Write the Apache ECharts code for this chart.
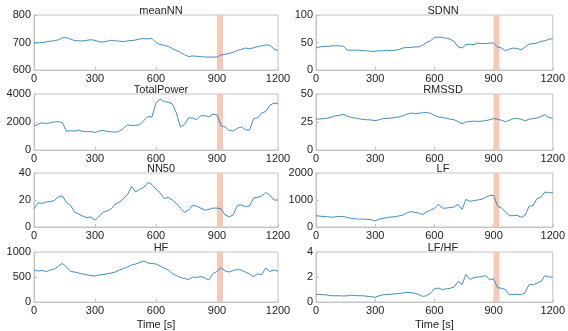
<!DOCTYPE html>
<html>
<head>
<meta charset="utf-8">
<script src="https://cdn.jsdelivr.net/npm/echarts@6/dist/echarts.min.js"></script>
<style>
  html, body { margin: 0; padding: 0; background: #fff; }
  #main { width: 568px; height: 331px; }
</style>
</head>
<body>
<div id="main"></div>
<script>
var chartDom = document.getElementById('main');
var myChart = echarts.init(chartDom);
var option;

// time axis, one value every 20 s
var time = [];
for (var s = 0; s <= 1200; s += 20) time.push(s);

var xTicks = [0, 300, 600, 900, 1200];
var band = [900, 930];

var meanNN = [698, 699, 700, 702, 705, 706, 710, 717, 718, 712, 707, 706, 706, 708, 710, 708, 703, 702, 705, 708,
  706, 705, 703, 706, 707, 709, 713, 714, 713, 715, 700, 693, 690, 686, 678, 671, 664, 656, 649, 651,
  650, 649, 647, 647, 647, 647, 655, 657, 660, 665, 671, 675, 680, 677, 681, 685, 688, 691, 690, 677, 671];
var SDNN = [40, 42, 43, 43, 44, 44, 44, 43, 36, 36, 36, 36, 35, 35, 34, 34, 35, 35, 36, 35,
  36, 37, 40, 41, 41, 42, 42, 45, 50, 53, 59, 60, 59, 58, 56, 52, 42, 40, 46, 47,
  46, 49, 48, 48, 49, 49, 42, 40, 35, 38, 40, 39, 37, 42, 47, 48, 49, 52, 53, 56, 57];
var totalPower = [1700, 1850, 1950, 1880, 1950, 2000, 2030, 1950, 1330, 1380, 1350, 1420, 1330, 1300, 1320, 1260, 1350, 1400, 1320, 1300,
  1270, 1350, 1550, 1800, 1750, 1760, 1800, 2100, 2400, 2350, 3350, 3650, 3450, 3430, 3300, 2650, 1650, 1820, 2300, 2280,
  2150, 2450, 2450, 2380, 2560, 2500, 1750, 1650, 1400, 1350, 1550, 1650, 1450, 1420, 2250, 2300, 2650, 2750, 3200, 3350, 3300];
var RMSSD = [27.5, 27.8, 28, 28.5, 29.5, 30.5, 31, 31.8, 30, 29, 28.5, 27.8, 27.2, 27, 26.8, 26.2, 27, 28, 28.2, 28.5,
  29, 29.5, 30.5, 32, 33, 32.5, 32.8, 33.2, 33.5, 32.8, 31, 29.5, 29, 28.5, 27.5, 27, 25.5, 23.5, 25, 25.5,
  25.8, 25.5, 25.8, 26.2, 27, 28, 27.5, 26.5, 25.2, 26.5, 28, 28, 27.5, 26, 27.5, 28, 28.5, 30, 31.5, 29, 28.5];
var NN50 = [13.5, 18, 17.5, 18.5, 18.8, 19.5, 22.5, 23, 18, 16, 11, 9.5, 8, 7, 7.5, 5, 8, 11, 12, 13.5,
  17, 18.5, 21, 24, 30, 26, 28, 29.5, 33, 31.5, 28, 25.5, 21, 22, 20, 17.5, 14, 11, 12.5, 16,
  15.5, 14, 12.5, 13, 14, 14, 13.5, 9, 7.5, 9, 16, 16.5, 15, 15.5, 21.5, 22, 23, 25.5, 23.5, 20, 20];
var LF = [420, 400, 390, 380, 360, 380, 390, 385, 350, 320, 300, 290, 295, 280, 270, 225, 290, 320, 350, 370,
  380, 410, 440, 520, 570, 540, 520, 460, 560, 620, 690, 840, 700, 700, 720, 740, 840, 650, 1020, 950,
  980, 1000, 1030, 1100, 1160, 1180, 780, 700, 560, 420, 420, 430, 360, 430, 770, 790, 1050, 1100, 1300, 1260, 1280];
var HF = [640, 620, 630, 610, 640, 660, 720, 770, 700, 610, 600, 580, 560, 545, 530, 520, 540, 550, 565, 580,
  600, 640, 670, 700, 740, 760, 790, 820, 780, 770, 760, 720, 680, 640, 570, 530, 490, 470, 450, 500,
  490, 510, 480, 440, 570, 610, 690, 620, 600, 630, 650, 640, 600, 560, 510, 560, 550, 680, 610, 640, 620];
var LFHF = [0.62, 0.6, 0.58, 0.55, 0.5, 0.5, 0.5, 0.48, 0.5, 0.55, 0.52, 0.5, 0.5, 0.45, 0.42, 0.38, 0.5, 0.58, 0.6, 0.62,
  0.65, 0.68, 0.72, 0.78, 0.75, 0.7, 0.6, 0.45, 0.5, 0.7, 1.05, 1.12, 1.0, 1.05, 1.1, 1.2, 1.65, 1.4, 2.2, 1.8,
  1.95, 2.0, 2.05, 2.1, 1.8, 1.85, 1.15, 1.1, 1.0, 0.58, 0.6, 0.62, 0.58, 0.75, 1.4, 1.38, 1.5, 1.65, 2.1, 2.0, 2.0];

var panels = [
  { name: 'meanNN', data: meanNN, min: 600, max: 800 },
  { name: 'SDNN', data: SDNN, min: 0, max: 100 },
  { name: 'TotalPower', data: totalPower, min: 0, max: 4000 },
  { name: 'RMSSD', data: RMSSD, min: 0, max: 50 },
  { name: 'NN50', data: NN50, min: 0, max: 40 },
  { name: 'LF', data: LF, min: 0, max: 2000 },
  { name: 'HF', data: HF, min: 0, max: 1000 },
  { name: 'LF/HF', data: LFHF, min: 0, max: 4 }
];

var lefts = [34, 316];
var tops = [15, 94, 173, 252];
var heights = [55, 56, 54, 53];
var plotW = 244;
var boxColor = '#c4c4c4';
var font = 'Liberation Sans, Arial, Helvetica, sans-serif';
var plain = function (v) { return String(v); };

var grids = [], xAxes = [], yAxes = [], series = [], titles = [];

panels.forEach(function (p, i) {
  var col = i % 2, row = Math.floor(i / 2);
  grids.push({
    left: lefts[col], top: tops[row], width: plotW, height: heights[row],
    show: true, borderColor: boxColor, borderWidth: 1, backgroundColor: '#fff'
  });
  titles.push({
    text: p.name,
    left: lefts[col] + plotW / 2, top: tops[row] - 15,
    textAlign: 'center',
    textStyle: { fontSize: 11, fontWeight: 'normal', color: '#222', fontFamily: font }
  });
  xAxes.push({
    type: 'value', gridIndex: i, min: 0, max: 1200, interval: 300,
    name: row === 3 ? 'Time [s]' : '',
    nameLocation: 'middle', nameGap: 17,
    nameTextStyle: { fontSize: 11, color: '#222', fontFamily: font },
    axisLine: { show: true, lineStyle: { color: boxColor } },
    axisTick: { show: true, inside: true, length: 3, lineStyle: { color: boxColor } },
    axisLabel: { fontSize: 11, color: '#222', margin: 3, fontFamily: font, formatter: plain,
      showMaxLabel: true, showMinLabel: true },
    splitLine: { show: false }
  });
  yAxes.push({
    type: 'value', gridIndex: i, min: p.min, max: p.max, interval: (p.max - p.min) / 2,
    axisLine: { show: true, lineStyle: { color: boxColor } },
    axisTick: { show: true, inside: true, length: 3, lineStyle: { color: boxColor } },
    axisLabel: { fontSize: 11, color: '#222', margin: 3, fontFamily: font, formatter: plain },
    splitLine: { show: false }
  });
  series.push({
    type: 'line', xAxisIndex: i, yAxisIndex: i,
    data: time.map(function (t, k) { return [t, p.data[k]]; }),
    showSymbol: false, silent: true,
    lineStyle: { color: '#2a7fbf', width: 0.9 },
    markArea: {
      silent: true,
      itemStyle: { color: '#f6c8b8', opacity: 1 },
      data: [[{ xAxis: band[0] }, { xAxis: band[1] }]]
    }
  });
});

option = {
  animation: false,
  backgroundColor: '#fff',
  title: titles,
  grid: grids,
  xAxis: xAxes,
  yAxis: yAxes,
  series: series
};

option && myChart.setOption(option);
</script>
</body>
</html>
